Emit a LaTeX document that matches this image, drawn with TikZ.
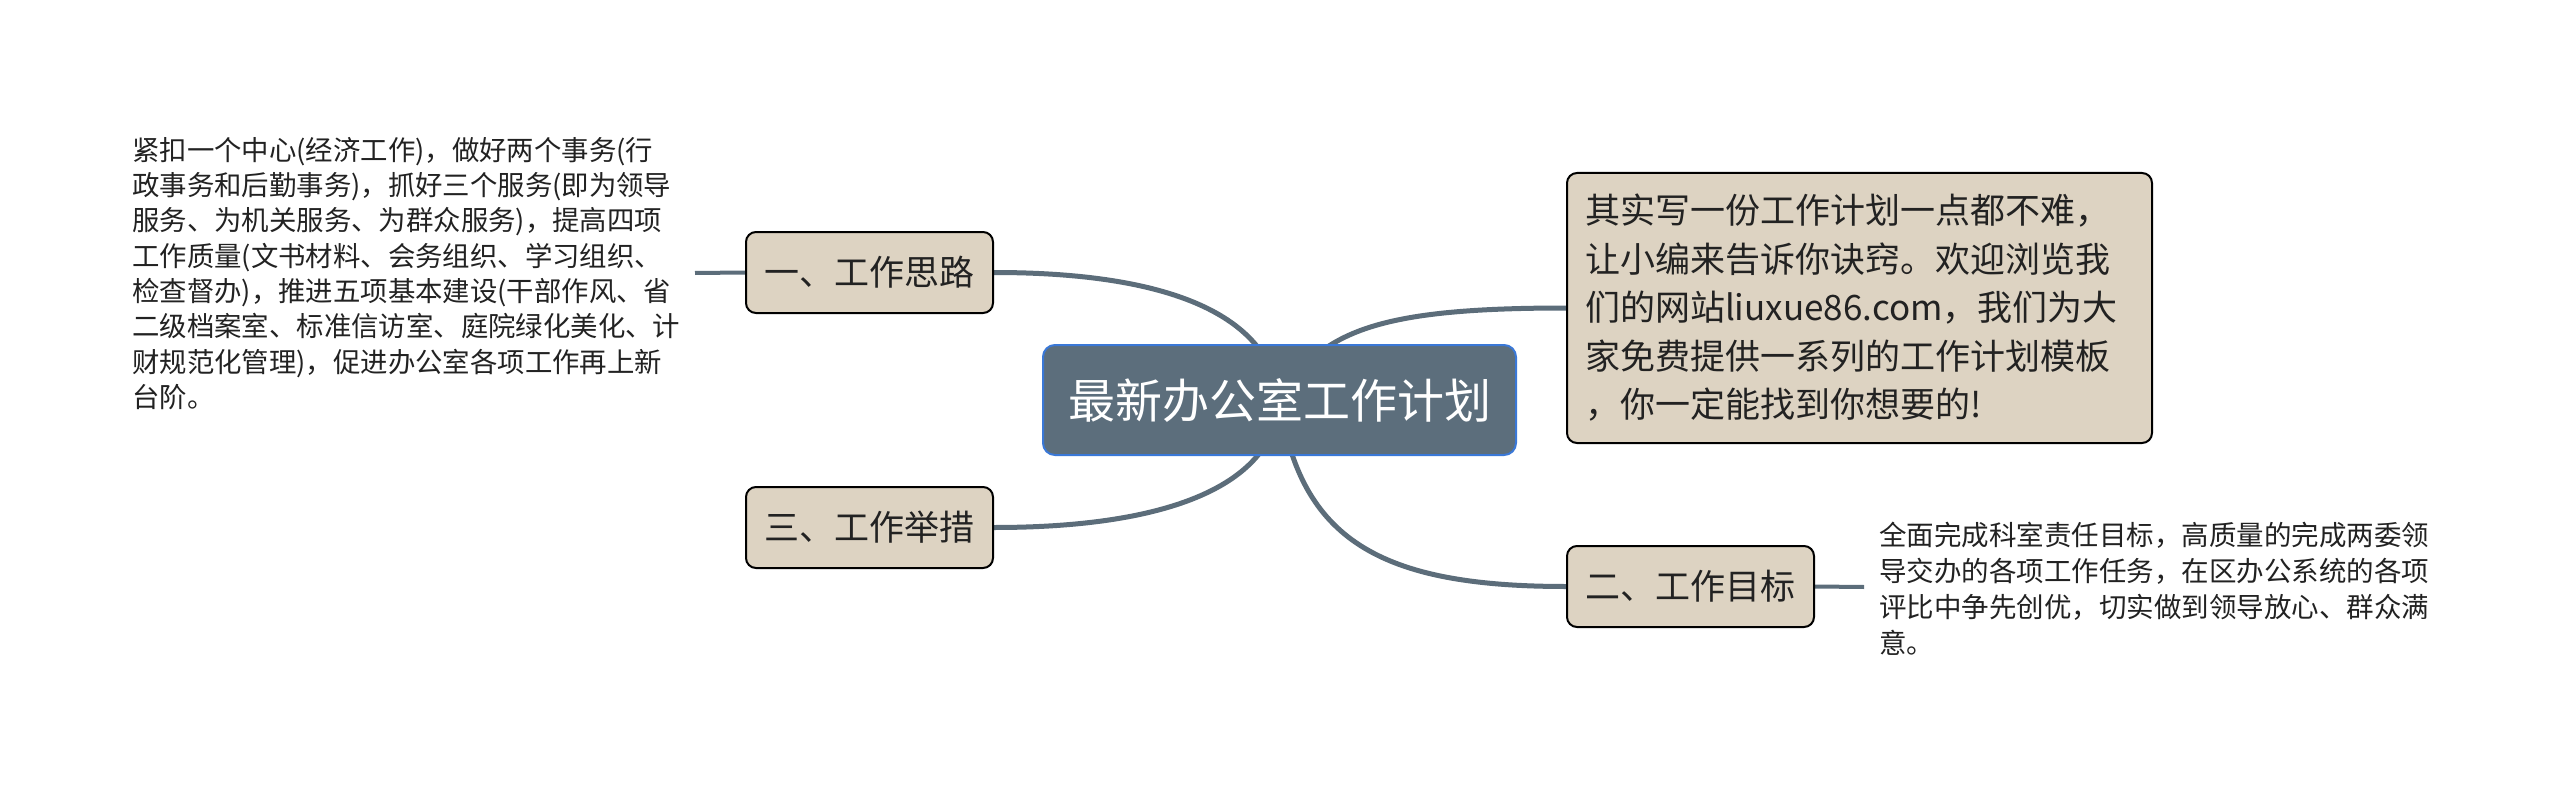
\documentclass[tikz,border=0pt]{standalone}
\usepackage{fontspec}
\setmainfont{Noto Sans CJK SC}
\usetikzlibrary{backgrounds}
\pgfdeclarelayer{paper}
\pgfsetlayers{paper,background,main}
\definecolor{edgecol}{RGB}{92,109,122}
\definecolor{boxfill}{RGB}{221,211,194}
\definecolor{rootfill}{RGB}{92,110,124}
\definecolor{rootborder}{RGB}{58,120,215}
\definecolor{textcol}{RGB}{34,34,34}
\tikzset{
  topic/.style={draw=black, line width=2pt, fill=boxfill, rounded corners=10pt,
    minimum width=247pt, minimum height=81pt, inner sep=0pt,
    font=\fontsize{35}{42}\selectfont, text=textcol},
  rootbox/.style={draw=rootborder, line width=2pt, fill=rootfill, rounded corners=12pt,
    minimum width=473pt, minimum height=110pt, inner sep=0pt, text=white,
    font=\fontsize{47}{56}\selectfont},
  leaf/.style={inner sep=0pt, align=left, anchor=west, text=textcol},
  branch/.style={draw=edgecol, line width=5pt},
  twig/.style={draw=edgecol, line width=4pt}
}
\begin{document}
\begin{tikzpicture}[x=1pt,y=-1pt]
\begin{pgfonlayer}{paper}
\fill[white] (0,0) rectangle (2560,789);
\end{pgfonlayer}
\useasboundingbox (0,0) rectangle (2560,789);

\node[rootbox] (c) at (1279.5,400) {最新办公室工作计划};
\node[topic] (t1) at (869.5,272.5) {一、工作思路};
\node[topic] (t3) at (869.5,527.5) {三、工作举措};
\node[topic] (t2) at (1690.5,586.5) {二、工作目标};
\node[topic, minimum width=585pt, minimum height=270pt, text width=549pt, align=left,
  font=\fontsize{35}{48.5}\selectfont] (t4) at (1859.5,308) {其实写一份工作计划一点都不难，\\
让小编来告诉你诀窍。欢迎浏览我\\
们的网站liuxue86.com，我们为大\\
家免费提供一系列的工作计划模板\\
，你一定能找到你想要的!};

\node[leaf, font=\fontsize{27.4}{35.3}\selectfont] (d1) at (132,273.5) {紧扣一个中心(经济工作)，做好两个事务(行\\
政事务和后勤事务)，抓好三个服务(即为领导\\
服务、为机关服务、为群众服务)，提高四项\\
工作质量(文书材料、会务组织、学习组织、\\
检查督办)，推进五项基本建设(干部作风、省\\
二级档案室、标准信访室、庭院绿化美化、计\\
财规范化管理)，促进办公室各项工作再上新\\
台阶。};

\node[leaf, font=\fontsize{27.5}{36}\selectfont] (d2) at (1879,589) {全面完成科室责任目标，高质量的完成两委领\\
导交办的各项工作任务，在区办公系统的各项\\
评比中争先创优，切实做到领导放心、群众满\\
意。};

\coordinate (l1) at (695,273);
\coordinate (r2) at (1864,587);

\begin{scope}[on background layer]
\draw[branch] (c.center) .. controls (1270,320) and (1180,272.5) .. (t1.east);
\draw[branch] (c.center) .. controls (1275,480) and (1180,527.5) .. (t3.east);
\draw[branch] (c.center) .. controls (1320,330) and (1380,308) .. (t4.west);
\draw[branch] (c.center) .. controls (1300,540) and (1380,586.5) .. (t2.west);
\draw[twig] (t1.west) -- (l1);
\draw[twig] (t2.east) -- (r2);
\end{scope}
\end{tikzpicture}
\end{document}
